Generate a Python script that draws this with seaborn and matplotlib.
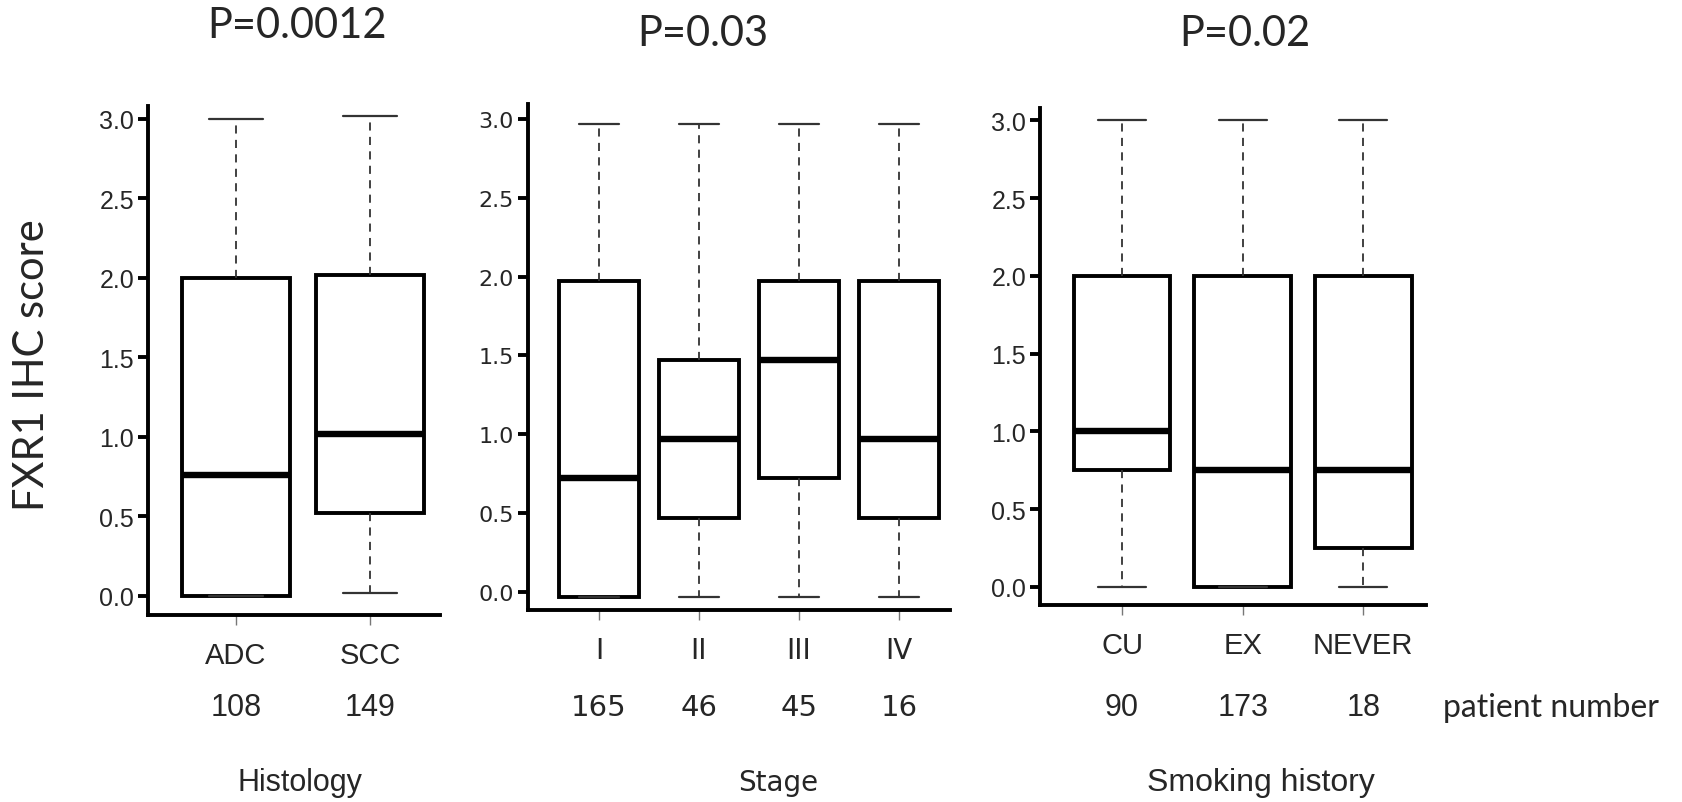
import numpy as np
import pandas as pd
import matplotlib
matplotlib.use("Agg")
import matplotlib.pyplot as plt
import matplotlib.transforms as mtransforms
import seaborn as sns

# ---------------- data ----------------
hist_cats = ["ADC", "SCC"]
hist_min = [0.0, 0.02]
hist_q1 = [0.0, 0.52]
hist_med = [0.76, 1.02]
hist_q3 = [2.0, 2.02]
hist_max = [3.0, 3.02]
hist_n = [108, 149]

stage_cats = ["I", "II", "III", "IV"]
stage_min = [-0.03, -0.03, -0.03, -0.03]
stage_q1 = [-0.03, 0.47, 0.72, 0.47]
stage_med = [0.72, 0.97, 1.47, 0.97]
stage_q3 = [1.97, 1.47, 1.97, 1.97]
stage_max = [2.97, 2.97, 2.97, 2.97]
stage_n = [165, 46, 45, 16]

smoke_cats = ["CU", "EX", "NEVER"]
smoke_min = [0.0, 0.0, 0.0]
smoke_q1 = [0.75, 0.0, 0.25]
smoke_med = [1.0, 0.75, 0.75]
smoke_q3 = [2.0, 2.0, 2.0]
smoke_max = [3.0, 3.0, 3.0]
smoke_n = [90, 173, 18]

titles = ["P=0.0012", "P=0.03", "P=0.02"]
xtitles = ["Histology", "Stage", "Smoking history"]
yticks = [0.0, 0.5, 1.0, 1.5, 2.0, 2.5, 3.0]


def long_df(cats, mn, q1, md, q3, mx):
    rows = []
    for c, a, b, m, d, e in zip(cats, mn, q1, md, q3, mx):
        for v in (a, b, m, d, e):
            rows.append({"group": c, "score": v})
    return pd.DataFrame(rows)


panels = [
    dict(df=long_df(hist_cats, hist_min, hist_q1, hist_med, hist_q3, hist_max),
         cats=hist_cats, n=hist_n, rect=[148, 107, 440, 616], xlim=(-0.657, 1.522),
         ylim=(-0.12, 3.08), font="Liberation Sans", title=titles[0], xt=xtitles[0],
         ytfs=18, xtfs=21, nfs=22, xtitfs=22),
    dict(df=long_df(stage_cats, stage_min, stage_q1, stage_med, stage_q3, stage_max),
         cats=stage_cats, n=stage_n, rect=[528, 105, 950, 611], xlim=(-0.71, 3.51),
         ylim=(-0.114, 3.094), font="DejaVu Sans", title=titles[1], xt=xtitles[1],
         ytfs=16, xtfs=20, nfs=21, xtitfs=20),
    dict(df=long_df(smoke_cats, smoke_min, smoke_q1, smoke_med, smoke_q3, smoke_max),
         cats=smoke_cats, n=smoke_n, rect=[1040, 109, 1426, 606], xlim=(-0.68, 2.52),
         ylim=(-0.116, 3.08), font="Liberation Sans", title=titles[2], xt=xtitles[2],
         ytfs=18, xtfs=21, nfs=22, xtitfs=23),
]

sns.set_theme(style="white")
plt.rcParams["font.family"] = ["Liberation Sans", "DejaVu Sans"]

W, H = 1683, 803
fig = plt.figure(figsize=(W / 100, H / 100), dpi=100)
fig.patch.set_facecolor("white")

title_font = "Lato"

for i, p in enumerate(panels):
    x0, y0, x1, y1 = p["rect"]
    ax = fig.add_axes([x0 / W, 1 - y1 / H, (x1 - x0) / W, (y1 - y0) / H])
    sns.boxplot(
        data=p["df"], x="group", y="score", order=p["cats"], ax=ax,
        whis=(0, 100), width=0.8, color="white", linecolor="black",
        linewidth=2.8, showfliers=False,
        medianprops=dict(linewidth=4.6, color="black"),
        whiskerprops=dict(linewidth=1.3, color="#333333", linestyle=(0, (4.5, 3.5))),
        capprops=dict(linewidth=1.6, color="#333333"),
    )
    ax.set_facecolor("white")
    ax.set_xlim(*p["xlim"])
    ax.set_ylim(*p["ylim"])
    ax.set_yticks(yticks)
    ax.set_yticklabels([f"{t:.1f}" for t in yticks], fontsize=p["ytfs"], family=p["font"])
    ax.set_xticks(range(len(p["cats"])))
    ax.set_xticklabels(p["cats"], fontsize=p["xtfs"], family=p["font"])
    ax.set_xlabel("")
    ax.set_ylabel("")
    for s in ["top", "right"]:
        ax.spines[s].set_visible(False)
    for s in ["left", "bottom"]:
        ax.spines[s].set_linewidth(2.8)
        ax.spines[s].set_color("black")
    ax.tick_params(axis="y", which="major", length=7, width=2.8, color="black",
                   pad=3, left=True, direction="out")
    ax.tick_params(axis="x", which="major", length=7, width=1.0, color="#777777",
                   pad=12, bottom=True, direction="out")
    ax.grid(False)

    # patient numbers
    trans = mtransforms.blended_transform_factory(ax.transData, fig.transFigure)
    for j, n in enumerate(p["n"]):
        ax.text(j, 1 - 708 / H, str(n), transform=trans, ha="center", va="center",
                fontsize=p["nfs"], family=p["font"], clip_on=False)

    # axis title
    tx = {0: 300, 1: 778, 2: 1261}[i]
    fig.text(tx / W, 1 - 783 / H, p["xt"], ha="center", va="center",
             fontsize=p["xtitfs"], family=p["font"])

    # P value titles
    px = {0: 297, 1: 703, 2: 1245}[i]
    py = {0: 26, 1: 34, 2: 34}[i]
    fig.text(px / W, 1 - py / H, p["title"], ha="center", va="center",
             fontsize=30, family=title_font)

fig.text(1443 / W, 1 - 708 / H, "patient number", ha="left", va="center",
         fontsize=23, family=title_font)
fig.text(32 / W, 1 - 365 / H, "FXR1 IHC score", ha="center", va="center",
         rotation=90, fontsize=30, family=title_font)

fig.savefig("out.png", dpi=100, facecolor="white")
